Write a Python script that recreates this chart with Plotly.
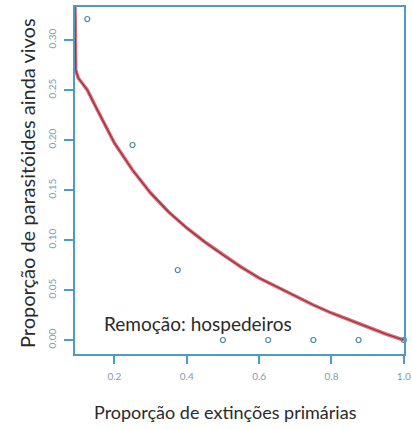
import plotly.graph_objects as go

# Observed points (proportion of primary extinctions vs proportion of parasitoids alive)
pt_x = [0.125, 0.25, 0.375, 0.5, 0.625, 0.75, 0.875, 1.0]
pt_y = [0.321, 0.195, 0.070, 0.0, 0.0, 0.0, 0.0, 0.0]

# Fitted curve
curve_x = [0.091, 0.093, 0.10, 0.125, 0.15, 0.20, 0.25, 0.30, 0.35, 0.40, 0.45,
           0.50, 0.55, 0.60, 0.65, 0.70, 0.75, 0.80, 0.85, 0.90, 0.95, 1.0]
curve_y = [0.335, 0.270, 0.262, 0.250, 0.232, 0.197, 0.170, 0.147, 0.128, 0.112,
           0.098, 0.085, 0.073, 0.062, 0.053, 0.044, 0.035, 0.027, 0.020, 0.013,
           0.006, 0.0]

x_ticks = [0.2, 0.4, 0.6, 0.8, 1.0]
x_ticklabels = ["0.2", "0.4", "0.6", "0.8", "1.0"]
y_ticks = [0.00, 0.05, 0.10, 0.15, 0.20, 0.25, 0.30]
y_ticklabels = ["0.00", "0.05", "0.10", "0.15", "0.20", "0.25", "0.30"]

x_title = "Proporção de extinções primárias"
y_title = "Proporção de parasitóides ainda vivos"
panel_label = "Remoção: hospedeiros"

AXIS_BLUE = "#4f9cc2"
TICK_TEXT = "#7d9cb2"
FONT = "Lato, 'Open Sans', sans-serif"

fig = go.Figure()
fig.add_trace(go.Scatter(x=curve_x, y=curve_y, mode="lines",
                         line=dict(color="#e06a72", width=3.5), hoverinfo="skip",
                         showlegend=False))
fig.add_trace(go.Scatter(x=curve_x, y=curve_y, mode="lines",
                         line=dict(color="#8c3448", width=1.2), hoverinfo="skip",
                         showlegend=False))
fig.add_trace(go.Scatter(x=pt_x, y=pt_y, mode="markers",
                         marker=dict(symbol="circle-open", size=5, color="#4a88ad",
                                     line=dict(width=1.2)),
                         showlegend=False, cliponaxis=False))

fig.update_layout(
    width=412, height=429,
    margin=dict(l=75, r=8, t=7, b=75),
    paper_bgcolor="white", plot_bgcolor="white",
    font=dict(family=FONT),
    showlegend=False,
)
fig.update_xaxes(
    range=[0.091, 1.0005], showgrid=False, zeroline=False, automargin=False,
    showline=True, linecolor=AXIS_BLUE, linewidth=1.5, mirror=True,
    ticks="outside", ticklen=8, tickcolor=AXIS_BLUE, tickwidth=1.5,
    tickvals=x_ticks, ticktext=x_ticklabels, ticklabeloverflow="allow",
    tickfont=dict(size=10, color=TICK_TEXT, family=FONT), ticklabelstandoff=4,
)
fig.update_yaxes(
    range=[-0.014, 0.333], showgrid=False, zeroline=False, automargin=False,
    showline=True, linecolor=AXIS_BLUE, linewidth=1.5, mirror=True,
    ticks="outside", ticklen=9, tickcolor=AXIS_BLUE, tickwidth=1.5,
    tickvals=y_ticks, ticktext=y_ticklabels, tickangle=-90,
    tickfont=dict(size=10, color=TICK_TEXT, family=FONT), ticklabelstandoff=4,
)

fig.add_annotation(x=0.167, y=0.017, xref="x", yref="y", text=panel_label,
                   showarrow=False, xanchor="left", yanchor="middle",
                   font=dict(size=19, color="#2a2a2a", family=FONT))
fig.add_annotation(x=(225 - 75) / 329, y=(354 - 412) / 347, xref="paper", yref="paper",
                   text=x_title, showarrow=False, xanchor="center", yanchor="middle",
                   font=dict(size=18, color="#2a2a2a", family=FONT))
fig.add_annotation(x=(27 - 75) / 329, y=(354 - 183) / 347, xref="paper", yref="paper",
                   text=y_title, showarrow=False, textangle=-90,
                   xanchor="center", yanchor="middle",
                   font=dict(size=20, color="#2a2a2a", family=FONT))

fig.write_html("out.html", config={"displayModeBar": False},
               post_script="document.body.style.margin='0';")
